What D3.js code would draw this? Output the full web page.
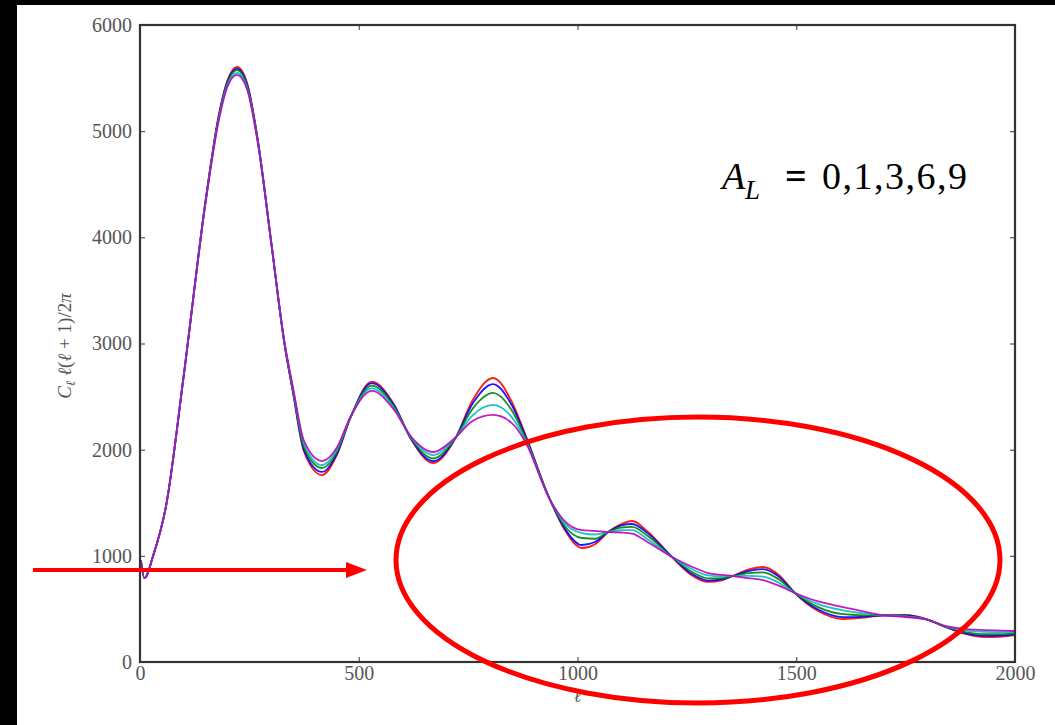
<!DOCTYPE html>
<html><head><meta charset="utf-8">
<script src="https://cdn.jsdelivr.net/npm/d3@7"></script>
<style>
html,body{margin:0;padding:0;background:#000;overflow:hidden;}
svg{display:block;}
</style></head>
<body>
<script>
// ---- data ----
const ell = [2,10,30,60,100,150,180,200,222,245,270,300,330,350,375,416,450,480,530,580,620,670,720,760,807,850,880,937,970,1010,1040,1070,1100,1125,1160,1216,1260,1298,1330,1355,1390,1424,1460,1497,1550,1607,1660,1700,1749,1800,1840,1890,1931,1970,2000];
const dlA0 = [960,790,1000,1480,2700,4350,5150,5480,5605,5450,4900,3950,3000,2530,1980,1761,1950,2290,2640,2431,2095,1874,2100,2463,2675,2450,2150,1530,1250,1074,1110,1224,1300,1328,1230,989,820,754,770,810,870,895,820,650,480,405,420,440,443,400,330,260,235,240,254];
const dlA1 = [960,790,1000,1480,2700,4347,5142,5470,5590,5440,4895,3950,3003,2538,1996,1790,1961,2292,2626,2423,2099,1891,2102,2432,2618,2418,2139,1530,1263,1102,1130,1224,1287,1300,1214,989,833,767,778,810,857,875,804,650,494,423,428,440,440,400,332,268,246,249,260];
const dlA3 = [960,790,1000,1480,2700,4342,5130,5455,5575,5425,4888,3950,3008,2550,2021,1827,1979,2294,2604,2410,2105,1917,2104,2384,2534,2368,2121,1530,1283,1168,1161,1224,1267,1272,1189,989,853,788,790,810,837,845,779,650,517,451,440,440,435,400,334,280,262,263,270];
const dlA6 = [960,790,1000,1480,2700,4335,5113,5436,5550,5405,4878,3950,3015,2566,2053,1855,2001,2297,2577,2394,2113,1950,2107,2322,2421,2304,2099,1530,1308,1215,1201,1224,1242,1243,1157,989,878,815,806,810,812,805,747,650,546,487,456,440,429,400,337,296,283,280,282];
const dlA9 = [960,790,1000,1480,2700,4330,5100,5420,5530,5390,4870,3950,3020,2580,2080,1893,2020,2300,2553,2380,2120,1978,2110,2270,2327,2250,2080,1530,1330,1243,1235,1224,1220,1210,1130,989,900,838,820,810,790,772,720,650,570,518,470,440,424,400,340,310,301,295,292];
const seriesNames = ["A_L=0","A_L=1","A_L=3","A_L=6","A_L=9"];
const seriesColors = ["#ff0000","#0000ff","#008000","#00bfbf","#bf00bf"];
const xTicks = [0,500,1000,1500,2000];
const yTicks = [0,1000,2000,3000,4000,5000,6000];

const W = 1055, H = 725;
const L = 140, R = 1015, T = 25, B = 662;

const svg = d3.select("body").append("svg").attr("width", W).attr("height", H);
svg.append("rect").attr("x",17).attr("y",5).attr("width",W-17).attr("height",H-5).attr("fill","#fff");

const x = d3.scaleLinear().domain([0,2000]).range([L,R]);
const y = d3.scaleLinear().domain([0,6000]).range([B,T]);

svg.append("defs").append("clipPath").attr("id","clip")
  .append("rect").attr("x",L).attr("y",T).attr("width",R-L).attr("height",B-T);

const allSeries = [dlA0, dlA1, dlA3, dlA6, dlA9];
const line = d3.line().x((d,i)=>x(ell[i])).y(d=>y(d)).curve(d3.curveMonotoneX);
const g = svg.append("g").attr("clip-path","url(#clip)");
allSeries.forEach((s,k)=>{
  g.append("path").datum(s).attr("d",line).attr("fill","none")
   .attr("stroke",seriesColors[k]).attr("stroke-width",1.8).attr("stroke-opacity",0.9)
   .attr("class","series").attr("data-name",seriesNames[k]);
});

// axes with inward ticks
const tickFont = "'Liberation Serif', 'DejaVu Serif', serif";
const axB = d3.axisBottom(x).tickValues(xTicks).tickSize(-5).tickPadding(4).tickFormat(d3.format("d"));
const axL = d3.axisLeft(y).tickValues(yTicks).tickSize(-5).tickPadding(8).tickFormat(d3.format("d"));
const axT = d3.axisTop(x).tickValues(xTicks).tickSize(-5).tickFormat("");
const axR = d3.axisRight(y).tickValues(yTicks).tickSize(-5).tickFormat("");
function style(sel){
  sel.select(".domain").remove();
  sel.selectAll(".tick line").attr("stroke","#333").attr("stroke-width",1);
  sel.selectAll(".tick text").attr("fill","#555").style("font-family",tickFont).style("font-size","20px");
}
const gb = svg.append("g").attr("transform",`translate(0,${B})`).call(axB); style(gb);
const gl = svg.append("g").attr("transform",`translate(${L},0)`).call(axL); style(gl);
const gt = svg.append("g").attr("transform",`translate(0,${T})`).call(axT); style(gt);
const gr = svg.append("g").attr("transform",`translate(${R},0)`).call(axR); style(gr);

svg.append("rect").attr("x",L).attr("y",T).attr("width",R-L).attr("height",B-T)
  .attr("fill","none").attr("stroke","#333").attr("stroke-width",2.2);

// axis labels
svg.append("text").attr("x",x(1000)).attr("y",702).attr("text-anchor","middle")
  .style("font-family",tickFont).style("font-size","18px").style("font-style","italic").attr("fill","#555").text("ℓ");
const yl = svg.append("text").attr("transform","translate(71,346) rotate(-90)").attr("text-anchor","middle")
  .style("font-family",tickFont).style("font-size","19px").attr("fill","#555");
yl.append("tspan").style("font-style","italic").text("C");
yl.append("tspan").style("font-style","italic").style("font-size","13px").attr("dy",4).text("ℓ");
yl.append("tspan").attr("dy",-4).text(" ");
yl.append("tspan").style("font-style","italic").text("ℓ");
yl.append("tspan").text("(");
yl.append("tspan").style("font-style","italic").text("ℓ");
yl.append("tspan").text(" + 1)/2");
yl.append("tspan").style("font-style","italic").text("π");

// annotation
const ann = svg.append("text").attr("x",722).attr("y",189)
  .style("font-family","'Liberation Serif', 'Times New Roman', serif").style("font-size","38px").attr("fill","#000");
ann.append("tspan").style("font-style","italic").text("A");
ann.append("tspan").style("font-style","italic").style("font-size","27px").attr("x",745).attr("dy",10).text("L");
ann.append("tspan").attr("x",785).attr("dy",-10).style("font-weight","bold").text("=");
ann.append("tspan").attr("x",822).style("letter-spacing","1.5px").text("0,1,3,6,9");

// red ellipse and arrow
svg.append("ellipse").attr("cx",698).attr("cy",560).attr("rx",302).attr("ry",143)
  .attr("fill","none").attr("stroke","#ff0000").attr("stroke-width",5);
svg.append("line").attr("x1",33).attr("y1",570).attr("x2",350).attr("y2",570)
  .attr("stroke","#ff0000").attr("stroke-width",4);
svg.append("path").attr("d","M346,562 L367,570 L346,578 Z").attr("fill","#ff0000");
</script>
</body></html>
